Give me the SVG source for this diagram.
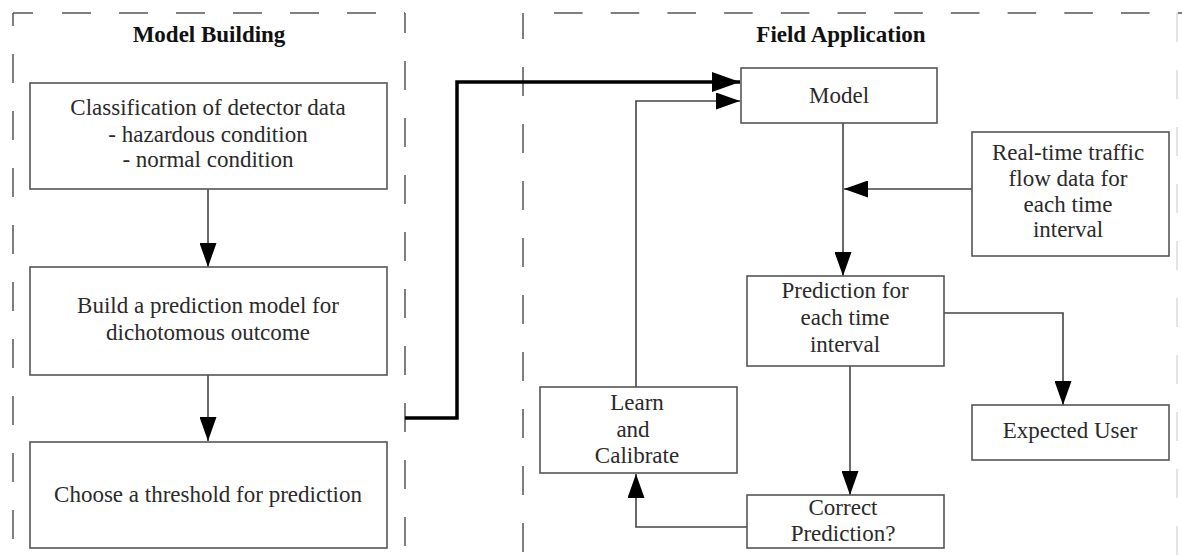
<svg xmlns="http://www.w3.org/2000/svg" width="1182" height="557" viewBox="0 0 1182 557">
<style>
  .box { fill: #ffffff; stroke: #555555; stroke-width: 1.6; }
  .t { font-family: "Liberation Serif", "Times New Roman", serif; font-size: 23px; fill: #2a2a2a; text-anchor: middle; }
  .h { font-family: "Liberation Serif", "Times New Roman", serif; font-size: 23px; font-weight: bold; fill: #111111; text-anchor: middle; }
  .dash { fill: none; stroke: #555555; stroke-width: 1.5; stroke-dasharray: 29 28; }
  .edge { fill: none; stroke: #444444; stroke-width: 1.6; }
  .thick { fill: none; stroke: #000000; stroke-width: 3.5; }
</style>
<defs>
  <marker id="arr" viewBox="0 0 24 17" refX="24" refY="8.5" markerWidth="24" markerHeight="17" markerUnits="userSpaceOnUse" orient="auto">
    <path d="M0,0 L24,8.5 L0,17 Z" fill="#000000"/>
  </marker>
  <marker id="arrBig" viewBox="0 0 28 20" refX="28" refY="10" markerWidth="28" markerHeight="20" markerUnits="userSpaceOnUse" orient="auto">
    <path d="M0,0 L28,10 L0,20 Z" fill="#000000"/>
  </marker>
</defs>
<rect x="0" y="0" width="1182" height="557" fill="#ffffff"/>

<g id="panels">
  <path d="M13,13 H33" class="dash" style="stroke-dasharray:none"/>
  <path d="M62,13 H405" class="dash"/>
  <path d="M13,13 V557" class="dash" style="stroke-dashoffset:16"/>
  <path d="M405,13 V557" class="dash" style="stroke-dashoffset:9"/>
  <path d="M554,13 H1182" class="dash" style="stroke-dasharray:28.6 28.1"/>
  <path d="M523,13 V557" class="dash" style="stroke-dashoffset:3"/>
  <path d="M1177,13 V557" class="dash" style="stroke:#dcdcdc"/>
  <text class="h" x="209" y="42">Model Building</text>
  <text class="h" x="841" y="42">Field Application</text>
</g>

<g id="connectors">
  <path class="edge" d="M208,189 V267" marker-end="url(#arr)"/>
  <path class="edge" d="M208,375 V441" marker-end="url(#arr)"/>
  <path class="thick" d="M405,418 H457 V82 H740" marker-end="url(#arrBig)"/>
  <path class="edge" d="M636,387 V101 H740" marker-end="url(#arr)"/>
  <path class="edge" d="M843,123 V276" marker-end="url(#arr)"/>
  <path class="edge" d="M972,189 H844" marker-end="url(#arr)"/>
  <path class="edge" d="M850,366 V495" marker-end="url(#arr)"/>
  <path class="edge" d="M944,313 H1063 V405" marker-end="url(#arr)"/>
  <path class="edge" d="M747,527 H636 V474" marker-end="url(#arr)"/>
</g>

<g id="classification">
  <rect class="box" x="30" y="83" width="357" height="106"/>
  <text class="t" x="208" y="115">Classification of detector data</text>
  <text class="t" x="208" y="142">- hazardous condition</text>
  <text class="t" x="208" y="167">- normal condition</text>
</g>
<g id="build-model">
  <rect class="box" x="30" y="267" width="357" height="108"/>
  <text class="t" x="208" y="313">Build a prediction model for</text>
  <text class="t" x="208" y="340">dichotomous outcome</text>
</g>
<g id="threshold">
  <rect class="box" x="30" y="442" width="357" height="106"/>
  <text class="t" x="208" y="502">Choose a threshold for prediction</text>
</g>
<g id="model">
  <rect class="box" x="741" y="68" width="196" height="55"/>
  <text class="t" x="839" y="103">Model</text>
</g>
<g id="realtime">
  <rect class="box" x="972" y="132" width="197" height="124"/>
  <text class="t" x="1068" y="160">Real-time traffic</text>
  <text class="t" x="1068" y="186">flow data for</text>
  <text class="t" x="1068" y="212">each time</text>
  <text class="t" x="1068" y="237">interval</text>
</g>
<g id="prediction">
  <rect class="box" x="747" y="276" width="197" height="90"/>
  <text class="t" x="845" y="298">Prediction for</text>
  <text class="t" x="845" y="325">each time</text>
  <text class="t" x="845" y="352">interval</text>
</g>
<g id="learn">
  <rect class="box" x="540" y="387" width="197" height="86"/>
  <text class="t" x="637" y="410">Learn</text>
  <text class="t" x="633" y="437">and</text>
  <text class="t" x="637" y="463">Calibrate</text>
</g>
<g id="correct">
  <rect class="box" x="747" y="495" width="197" height="53"/>
  <text class="t" x="843" y="515">Correct</text>
  <text class="t" x="843" y="541">Prediction?</text>
</g>
<g id="expected-user">
  <rect class="box" x="972" y="405" width="197" height="55"/>
  <text class="t" x="1070" y="438">Expected User</text>
</g>
</svg>
